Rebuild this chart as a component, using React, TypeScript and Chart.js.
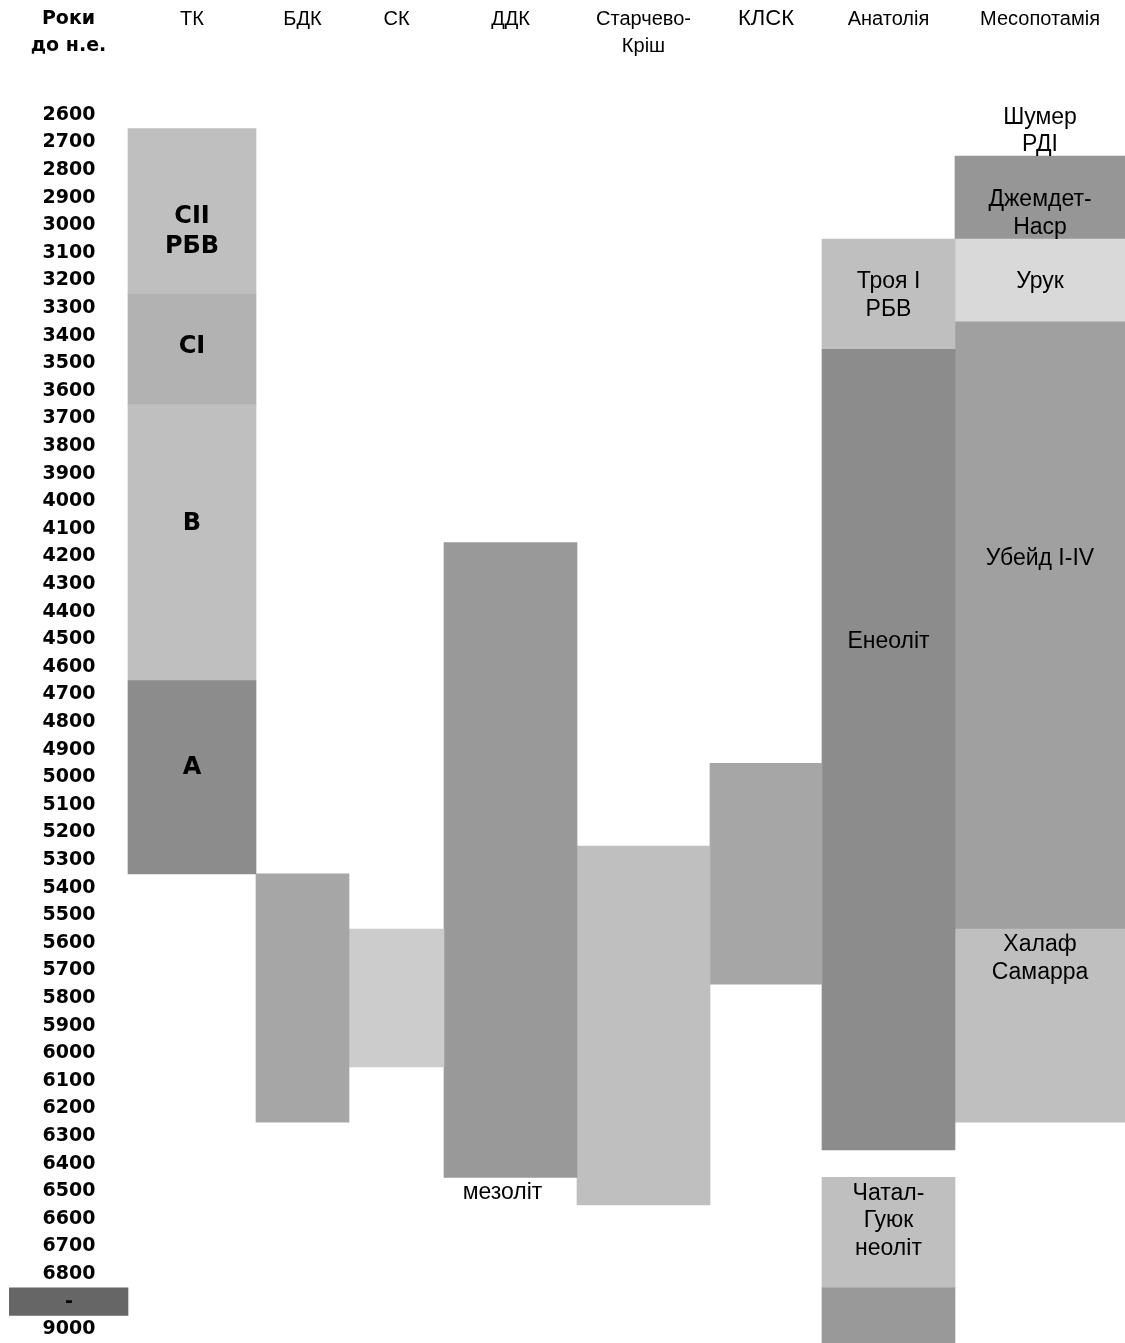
import { useEffect, useRef } from 'react';
import { Chart, registerables } from 'chart.js';

Chart.register(...registerables);

// ---------- data ----------
const ROW_LABELS = [
  '2600', '2700', '2800', '2900', '3000', '3100', '3200', '3300', '3400', '3500',
  '3600', '3700', '3800', '3900', '4000', '4100', '4200', '4300', '4400', '4500',
  '4600', '4700', '4800', '4900', '5000', '5100', '5200', '5300', '5400', '5500',
  '5600', '5700', '5800', '5900', '6000', '6100', '6200', '6300', '6400', '6500',
  '6600', '6700', '6800', '-', '9000',
];

const COLUMN_TITLES = [
  ['Роки', 'до н.е.'],
  ['ТК'],
  ['БДК'],
  ['СК'],
  ['ДДК'],
  ['Старчево-', 'Кріш'],
  ['КЛСК'],
  ['Анатолія'],
  ['Месопотамія'],
];

const BLOCK_COLUMN = [0, 1, 1, 1, 1, 2, 3, 4, 5, 6, 7, 7, 7, 7, 8, 8, 8, 8];
const BLOCK_FROM = ['-', '2700', '3300', '3700', '4700', '5400', '5600', '4200', '5300', '5000', '3100', '3500', '6500', '-', '2800', '3100', '3400', '5600'];
const BLOCK_TO = ['-', '3200', '3600', '4600', '5300', '6200', '6000', '6400', '6500', '5700', '3400', '6300', '6800', '9000', '3000', '3300', '5500', '6200'];
const BLOCK_TEXT = [
  [], ['СІІ', 'РБВ'], ['СІ'], ['В'], ['А'], [], [], [], [], [],
  ['Троя І', 'РБВ'], ['Енеоліт'], ['Чатал-', 'Гуюк', 'неоліт'], [],
  ['Джемдет-', 'Наср'], ['Урук'], ['Убейд І-IV'], ['Халаф', 'Самарра'],
];

const NOTE_COLUMN = [4, 8];
const NOTE_TEXT = [['мезоліт'], ['Шумер', 'РДІ']];

// ---------- layout & style ----------
const COLUMN_WIDTHS = [119, 128, 93, 95, 133, 133, 112, 133, 170];
const BLOCK_COLORS = [
  '#666666', '#bfbfbf', '#b2b2b2', '#bfbfbf', '#8c8c8c', '#a6a6a6', '#cccccc', '#999999', '#bfbfbf', '#a6a6a6',
  '#bfbfbf', '#8c8c8c', '#bfbfbf', '#999999', '#969696', '#d9d9d9', '#a0a0a0', '#bfbfbf',
];
const BLOCK_TEXT_ROW = [0, 4.74, 8.91, 15.33, 24.17, 0, 0, 0, 0, 0, 7.05, 19.58, 40.58, 0, 4.08, 6.56, 16.58, 31.08];
const BLOCK_TEXT_BOLD = [false, true, true, true, true, false, false, false, false, false, false, false, false, false, false, false, false, false];
const NOTE_ROW = [39.57, 1.1];
const NOTE_DX = [-8, 0];

const W = 1125;
const H = 1343;
const LEFT = 9;
const HEADER_H = 101;

const edges: number[] = [0];
COLUMN_WIDTHS.forEach((w, i) => edges.push(edges[i] + w));
const TOTAL = edges[edges.length - 1];
const centers = COLUMN_WIDTHS.map((w, i) => edges[i] + w / 2);

const rowIndex = (label: string) => ROW_LABELS.indexOf(label);

const labelPlugin = {
  id: 'blockLabels',
  afterDatasetsDraw(chart: any) {
    const { ctx } = chart;
    const xs = chart.scales.x;
    const ys = chart.scales.y;
    const drawLines = (lines: string[], col: number, row: number, bold: boolean, dx: number) => {
      if (!lines.length) return;
      const lh = bold ? 30 : 27.5;
      ctx.font = bold ? '700 24px "DejaVu Sans"' : '23px "Liberation Sans", Arial, sans-serif';
      const x = xs.getPixelForValue(centers[col]) + dx;
      const yc = ys.getPixelForValue(row);
      lines.forEach((t, j) => {
        ctx.fillText(t, x, yc + (j - (lines.length - 1) / 2) * lh);
      });
    };
    ctx.save();
    ctx.fillStyle = '#000000';
    ctx.textAlign = 'center';
    ctx.textBaseline = 'middle';
    BLOCK_TEXT.forEach((lines, i) => drawLines(lines, BLOCK_COLUMN[i], BLOCK_TEXT_ROW[i], BLOCK_TEXT_BOLD[i], 0));
    NOTE_TEXT.forEach((lines, i) => drawLines(lines, NOTE_COLUMN[i], NOTE_ROW[i], false, NOTE_DX[i]));
    ctx.restore();
  },
};

export default function App() {
  const ref = useRef<HTMLCanvasElement>(null);

  useEffect(() => {
    if (!ref.current) return;
    const datasets = COLUMN_WIDTHS.map((w, col) => {
      const idx = BLOCK_COLUMN.map((c, i) => (c === col ? i : -1)).filter((i) => i >= 0);
      return {
        label: COLUMN_TITLES[col].join(' '),
        data: idx.map((i) => ({ x: centers[col], y: [rowIndex(BLOCK_FROM[i]), rowIndex(BLOCK_TO[i]) + 1] })),
        backgroundColor: idx.map((i) => BLOCK_COLORS[i]),
        borderWidth: 0,
        barThickness: w,
        stack: 's',
      };
    });

    const chart = new Chart(ref.current, {
      type: 'bar',
      data: { datasets: datasets as any },
      plugins: [labelPlugin],
      options: {
        responsive: false,
        animation: false,
        devicePixelRatio: 1,
        layout: { padding: { left: LEFT, top: 0, right: 0, bottom: 0 } },
        plugins: { legend: { display: false }, tooltip: { enabled: false } },
        scales: {
          x: {
            type: 'linear',
            position: 'top',
            min: 0,
            max: TOTAL,
            offset: false,
            stacked: true,
            grid: { display: false, drawTicks: false },
            border: { display: false },
            afterBuildTicks: (scale: any) => {
              scale.ticks = centers.map((value) => ({ value }));
            },
            afterFit: (scale: any) => {
              scale.height = HEADER_H;
              scale.paddingLeft = 0;
              scale.paddingRight = 0;
              scale.paddingTop = 0;
              scale.paddingBottom = 0;
            },
            ticks: {
              autoSkip: false,
              maxRotation: 0,
              minRotation: 0,
              crossAlign: 'far',
              padding: 41.5,
              color: '#000000',
              font: (ctx: any) =>
                ctx.index === 0
                  ? { family: '"DejaVu Sans"', size: 19, weight: 'bold', lineHeight: '27px' }
                  : { family: '"Liberation Sans", Arial, sans-serif', size: ctx.index === 6 ? 22 : 20, weight: 'normal', lineHeight: '27px' },
              callback: (_v: any, i: number) => COLUMN_TITLES[i],
            },
          } as any,
          y: {
            type: 'linear',
            position: 'left',
            min: 0,
            max: ROW_LABELS.length,
            reverse: true,
            stacked: false,
            grid: { display: false, drawTicks: false },
            border: { display: false },
            afterBuildTicks: (scale: any) => {
              scale.ticks = ROW_LABELS.map((_, i) => ({ value: i + 0.5 }));
            },
            afterFit: (scale: any) => {
              scale.width = 0;
              scale.paddingLeft = 0;
              scale.paddingRight = 0;
              scale.paddingTop = 0;
              scale.paddingBottom = 0;
            },
            ticks: {
              z: 1,
              autoSkip: false,
              mirror: true,
              crossAlign: 'center',
              padding: 33.5,
              color: '#000000',
              font: { family: '"DejaVu Sans"', size: 19, weight: 'bold' },
              callback: (_v: any, i: number) => ROW_LABELS[i],
            },
          } as any,
        },
      },
    });
    return () => chart.destroy();
  }, []);

  return (
    <div style={{ position: 'absolute', left: 0, top: 0, width: W, height: H, background: '#ffffff' }}>
      <canvas ref={ref} width={W} height={H} style={{ display: 'block', width: W, height: H }} />
    </div>
  );
}
